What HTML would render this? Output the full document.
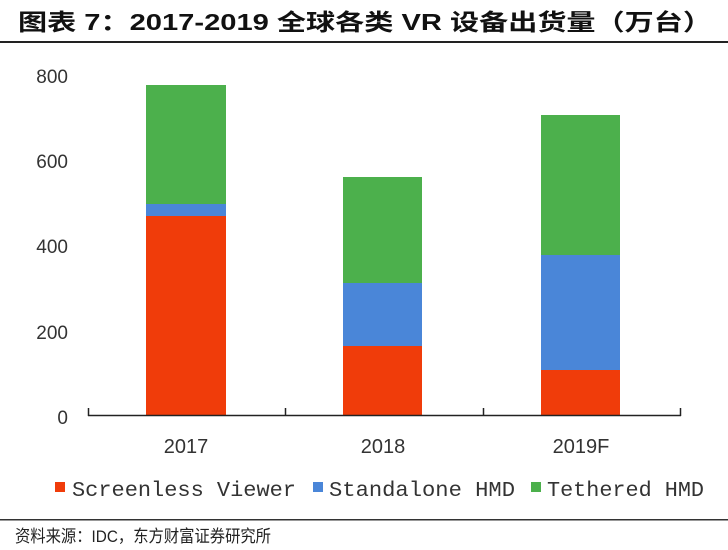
<!DOCTYPE html>
<html><head><meta charset="utf-8"><style>body{margin:0;background:#fff}svg{display:block}</style></head>
<body>
<svg width="728" height="550" xmlns="http://www.w3.org/2000/svg">
<rect width="728" height="550" fill="#fff"/>
<text x="18" y="30" font-family="Liberation Sans,'Noto Sans CJK SC',sans-serif" font-weight="bold" font-size="23" fill="#111" textLength="694" lengthAdjust="spacingAndGlyphs">图表 7：2017-2019 全球各类 VR 设备出货量（万台）</text>
<rect x="0" y="41" width="728" height="2" fill="#222"/>
<g font-family="Liberation Sans,sans-serif" font-size="19" fill="#333" text-anchor="end">
<text x="68" y="83">800</text><text x="68" y="168">600</text><text x="68" y="253">400</text><text x="68" y="339">200</text><text x="68" y="424">0</text>
</g>
<!-- bars -->
<rect x="146" y="216" width="80" height="200" fill="#f03c0a"/>
<rect x="146" y="204" width="80" height="12" fill="#4a86d8"/>
<rect x="146" y="85" width="80" height="119" fill="#4cb04c"/>
<rect x="343" y="346" width="79" height="70" fill="#f03c0a"/>
<rect x="343" y="283" width="79" height="63" fill="#4a86d8"/>
<rect x="343" y="177" width="79" height="106" fill="#4cb04c"/>
<rect x="541" y="370" width="79" height="46" fill="#f03c0a"/>
<rect x="541" y="255" width="79" height="115" fill="#4a86d8"/>
<rect x="541" y="115" width="79" height="140" fill="#4cb04c"/>
<g stroke="#222" stroke-width="1.5" fill="none">
<line x1="88" y1="415.5" x2="681" y2="415.5"/>
<line x1="88.5" y1="408" x2="88.5" y2="416"/><line x1="285.5" y1="408" x2="285.5" y2="416"/><line x1="483.5" y1="408" x2="483.5" y2="416"/><line x1="680.5" y1="408" x2="680.5" y2="416"/>
</g>
<g font-family="Liberation Sans,sans-serif" font-size="20" fill="#333" text-anchor="middle">
<text x="186" y="453">2017</text><text x="383" y="453">2018</text><text x="581" y="453">2019F</text>
</g>
<g font-family="Liberation Mono,monospace" font-size="21" fill="#333">
<rect x="55" y="482" width="10" height="10" fill="#f03c0a"/>
<text x="72" y="496" textLength="224" lengthAdjust="spacingAndGlyphs">Screenless Viewer</text>
<rect x="313" y="482" width="10" height="10" fill="#4a86d8"/>
<text x="329" y="496" textLength="186" lengthAdjust="spacingAndGlyphs">Standalone HMD</text>
<rect x="531" y="482" width="10" height="10" fill="#4cb04c"/>
<text x="547" y="496" textLength="157" lengthAdjust="spacingAndGlyphs">Tethered HMD</text>
</g>
<rect x="0" y="519" width="728" height="1.5" fill="#333"/>
<text x="15" y="542" font-family="Liberation Sans,'Noto Sans CJK SC',sans-serif" font-size="17" fill="#222" textLength="256" lengthAdjust="spacingAndGlyphs">资料来源：IDC，东方财富证券研究所</text>
</svg>
</body></html>
